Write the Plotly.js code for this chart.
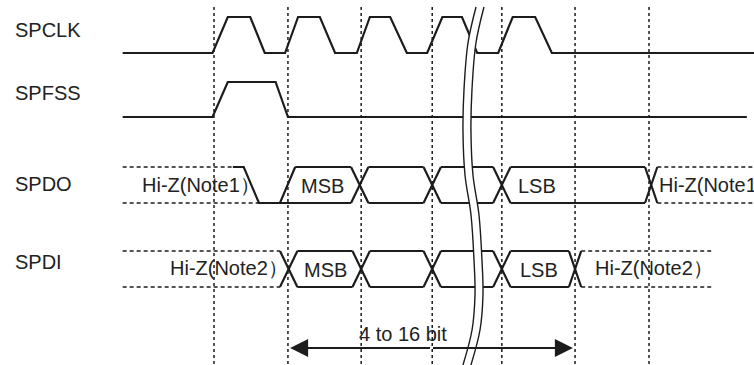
<!DOCTYPE html>
<html><head><meta charset="utf-8">
<script src="https://cdn.plot.ly/plotly-3.0.1.min.js"></script>
<style>html,body{margin:0;padding:0;background:#fff}#chart{width:754px;height:365px}</style>
</head><body><div id="chart"></div>
<script>
// ================= DATA (time in clock periods, levels 0/1) =================
const signals = ['SPCLK', 'SPFSS', 'SPDO', 'SPDI'];
const edgeT = [0, 1.02, 2.03, 3.01, 3.97, 4.98, 6.0];           // dashed reference edges

const clkT = [-1.26, -0.02, 0.19, 0.50, 0.70, 0.98, 1.16, 1.46, 1.67, 1.97, 2.15, 2.43, 2.66, 2.94, 3.15, 3.42, 3.63, 3.92, 4.12, 4.43, 4.66, 7.45];
const clkV = [0, 0, 1, 1, 0, 0, 1, 1, 0, 0, 1, 1, 0, 0, 1, 1, 0, 0, 1, 1, 0, 0];

const fssT = [-1.26, -0.02, 0.19, 0.85, 1.02, 7.35];
const fssV = [0, 0, 1, 1, 0, 0];

// SPDO: Hi-Z, driven low, then bus
const sdoHizLeftT = [-1.26, 0.26, 0.62];        // start, top end, bottom end
const sdoLeadT = [0.26, 0.41, 0.62, 0.91, 1.12];
const sdoLeadV = [1, 1, 0, 0, 1];
const sdoX = [2.01, 3.01, 3.97, 6.03];           // bus transitions (last -> Hi-Z)
const sdoSegs = ['MSB', '', '', 'LSB'];
const sdoHizRightEnd = 7.45;

// SPDI: Hi-Z, bus, Hi-Z
const sdiHizLeftStart = -1.26;
const sdiX = [1.03, 2.03, 3.01, 3.97, 4.98];     // first from Hi-Z, last to Hi-Z
const sdiSegs = ['MSB', '', '', 'LSB'];
const sdiHizRightEnd = 6.87;

const hizText1 = 'Hi-Z(Note1）';
const hizText2 = 'Hi-Z(Note2）';
const spanT = [1.05, 4.95];
const spanText = '4 to 16 bit';

// ================= LAYOUT CONFIG (positions / styles) =================
const W = 754, H = 365, PX0 = 214, PXU = 72.5;
const tAt = px => (px - PX0) / PXU;
const lanes = {
  SPCLK: {hi: 17, lo: 53, label: 30},
  SPFSS: {hi: 82, lo: 117, label: 93},
  SPDO:  {hi: 167, lo: 203, label: 184},
  SPDI:  {hi: 251, lo: 287, label: 262}
};
const HW = 0.12, HWZ = 0.085;       // half widths of bus crossings
const INK = '#1c1c1c';
const FONT = {family: 'Liberation Sans, Arial, sans-serif', size: 20, color: '#222'};
const yOf = (lane, v) => lane.lo + v * (lane.hi - lane.lo);

const solid = {x: [], y: []};
const hiz = {x: [], y: []};
function seg(store, x1, y1, x2, y2) { store.x.push(x1, x2, null); store.y.push(y1, y2, null); }
function poly(store, xs, ys) { xs.forEach((v, i) => { store.x.push(v); store.y.push(ys[i]); }); store.x.push(null); store.y.push(null); }

// clock & frame sync
poly(solid, clkT, clkV.map(v => yOf(lanes.SPCLK, v)));
poly(solid, fssT, fssV.map(v => yOf(lanes.SPFSS, v)));

// SPDO
{
  const L = lanes.SPDO;
  seg(hiz, sdoHizLeftT[0], L.hi, sdoHizLeftT[1], L.hi);
  seg(hiz, sdoHizLeftT[0], L.lo, sdoHizLeftT[2], L.lo);
  poly(solid, sdoLeadT, sdoLeadV.map(v => yOf(L, v)));
  let top = sdoLeadT[4], bot = sdoLeadT[3];
  sdoX.forEach((c, i) => {
    const h = (i === sdoX.length - 1) ? HWZ : HW;
    seg(solid, top, L.hi, c - h, L.hi);
    seg(solid, bot, L.lo, c - h, L.lo);
    seg(solid, c - h, L.hi, c + h, L.lo);
    seg(solid, c - h, L.lo, c + h, L.hi);
    top = bot = c + h;
  });
  seg(hiz, top, L.hi, sdoHizRightEnd, L.hi);
  seg(hiz, top, L.lo, sdoHizRightEnd, L.lo);
}
// SPDI
{
  const L = lanes.SPDI;
  let cur = sdiHizLeftStart;
  sdiX.forEach((c, i) => {
    const h = (i === 0) ? HW : (i === sdiX.length - 1 ? HWZ : HW);
    const store = (i === 0) ? hiz : solid;
    seg(store, cur, L.hi, c - h, L.hi);
    seg(store, cur, L.lo, c - h, L.lo);
    seg(solid, c - h, L.hi, c + h, L.lo);
    seg(solid, c - h, L.lo, c + h, L.hi);
    cur = c + h;
  });
  seg(hiz, cur, L.hi, sdiHizRightEnd, L.hi);
  seg(hiz, cur, L.lo, sdiHizRightEnd, L.lo);
}

// dashed edge lines
const vd = {x: [], y: []};
edgeT.forEach(t => seg(vd, t, 7, t, H));

// break symbol
const brkY = [7, 43, 90, 130, 175, 215, 260, 295, 330, 365];
const brkL = [3.614, 3.503, 3.448, 3.434, 3.462, 3.545, 3.586, 3.600, 3.559, 3.434];
const brkR = brkL.map(v => v + 0.11);

const traces = [
  {x: vd.x, y: vd.y, mode: 'lines', line: {color: INK, width: 1.5, dash: '3px,3px'}, hoverinfo: 'skip'},
  {x: hiz.x, y: hiz.y, mode: 'lines', line: {color: INK, width: 1.5, dash: '4px,3px'}, hoverinfo: 'skip'},
  {x: solid.x, y: solid.y, mode: 'lines', line: {color: INK, width: 2.2}, hoverinfo: 'skip'},
  {x: brkL.concat(brkR.slice().reverse()), y: brkY.concat(brkY.slice().reverse()), mode: 'lines', fill: 'toself', fillcolor: '#fff', line: {color: 'rgba(0,0,0,0)', width: 0, shape: 'spline'}, hoverinfo: 'skip'},
  {x: brkL, y: brkY, mode: 'lines', line: {color: INK, width: 1.4, shape: 'spline'}, hoverinfo: 'skip'},
  {x: brkR, y: brkY, mode: 'lines', line: {color: INK, width: 1.4, shape: 'spline'}, hoverinfo: 'skip'}
];

const ann = [];
signals.forEach(s => ann.push({xref: 'paper', yref: 'y', x: 13 / W, y: lanes[s].label, text: s, showarrow: false, xanchor: 'left', yanchor: 'middle', font: FONT}));
const txt = (t, y, s, xa) => ann.push({x: t, y: y, text: s, showarrow: false, xanchor: xa, yanchor: 'middle', font: FONT});
txt(tAt(140), 185, hizText1, 'left');
txt(tAt(322), 186, sdoSegs[0], 'center');
txt(tAt(537), 186, sdoSegs[3], 'center');
txt(tAt(657), 185, hizText1, 'left');
txt(tAt(168), 268, hizText2, 'left');
txt(tAt(325), 270, sdiSegs[0], 'center');
txt(tAt(539), 270, sdiSegs[3], 'center');
txt(tAt(593), 268, hizText2, 'left');
// span arrow
const mid = (spanT[0] + spanT[1]) / 2;
spanT.forEach(t => ann.push({x: t, y: 348, ax: mid, ay: 348, axref: 'x', ayref: 'y', text: '', showarrow: true, arrowhead: 2, arrowsize: 2, arrowwidth: 1.8, arrowcolor: INK, standoff: 0, startstandoff: 0}));
txt(tAt(403), 334, spanText, 'center');

const layout = {
  width: W, height: H, margin: {l: 0, r: 0, t: 0, b: 0},
  paper_bgcolor: '#fff', plot_bgcolor: '#fff', showlegend: false,
  xaxis: {range: [tAt(0), tAt(W)], visible: false, fixedrange: true},
  yaxis: {range: [H, 0], visible: false, fixedrange: true},
  annotations: ann
};
Plotly.newPlot('chart', traces, layout, {staticPlot: true, displayModeBar: false});
</script></body></html>
